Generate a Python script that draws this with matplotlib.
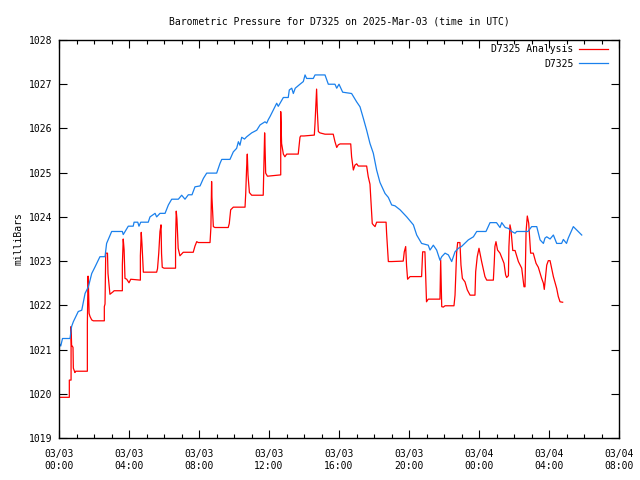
import numpy as np
import pandas as pd
import matplotlib
matplotlib.use("Agg")
import matplotlib.pyplot as plt
import matplotlib.dates as mdates

# -------------------------------------------------
# DATA (hours after 2025-03-03 00:00 UTC, pressure in mb)
# -------------------------------------------------
start = pd.Timestamp("2025-03-03 00:00")

obs_hours = [0.0, 0.1, 0.2, 0.63, 0.72, 0.82, 1.1, 1.3, 1.49, 1.68, 1.87, 2.06,
             2.34, 2.63, 2.72, 3.01, 3.62, 3.67, 3.96, 4.24, 4.29, 4.5, 4.57,
             4.67, 5.1, 5.2, 5.49, 5.58, 5.77, 6.06, 6.25, 6.44, 6.82, 7.01,
             7.2, 7.39, 7.6, 7.77, 8.06, 8.25, 8.44, 9.01, 9.2, 9.3, 9.77,
             9.96, 10.15, 10.25, 10.34, 10.44, 10.6, 10.72, 11.01, 11.3, 11.49,
             11.77, 11.87, 11.96, 12.06, 12.25, 12.44, 12.53, 12.63, 12.82,
             13.1, 13.16, 13.3, 13.39, 13.5, 13.77, 13.96, 14.06, 14.15, 14.53,
             14.63, 15.2, 15.39, 15.77, 15.87, 16.0, 16.21, 16.72, 17.01, 17.2,
             17.39, 17.58, 17.77, 17.96, 18.15, 18.34, 18.63, 18.82, 19.01,
             19.2, 19.49, 19.87, 20.25, 20.44, 20.72, 21.1, 21.2, 21.39, 21.58,
             21.77, 21.87, 22.06, 22.25, 22.44, 22.63, 22.82, 23.0, 23.39,
             23.68, 23.87, 24.4, 24.63, 25.0, 25.2, 25.3, 25.5, 25.68, 25.87,
             26.06, 26.15, 26.8, 27.01, 27.3, 27.49, 27.68, 27.77, 27.87, 28.06,
             28.25, 28.44, 28.72, 28.82, 29.0, 29.1, 29.39, 29.87]
obs_mb = [1021.15, 1021.08, 1021.25, 1021.25, 1021.52, 1021.63, 1021.86, 1021.89,
          1022.27, 1022.42, 1022.72, 1022.87, 1023.10, 1023.10, 1023.40, 1023.67,
          1023.67, 1023.60, 1023.79, 1023.79, 1023.88, 1023.88, 1023.79, 1023.88,
          1023.88, 1024.00, 1024.08, 1024.00, 1024.08, 1024.08, 1024.27, 1024.40,
          1024.40, 1024.49, 1024.40, 1024.50, 1024.50, 1024.68, 1024.70, 1024.87,
          1024.99, 1024.99, 1025.21, 1025.30, 1025.30, 1025.47, 1025.55, 1025.70,
          1025.62, 1025.80, 1025.76, 1025.81, 1025.90, 1025.96, 1026.08, 1026.15,
          1026.12, 1026.20, 1026.27, 1026.42, 1026.57, 1026.50, 1026.57, 1026.70,
          1026.70, 1026.87, 1026.91, 1026.79, 1026.91, 1027.00, 1027.06, 1027.21,
          1027.13, 1027.13, 1027.21, 1027.21, 1027.00, 1027.00, 1026.91, 1027.00,
          1026.82, 1026.79, 1026.60, 1026.49, 1026.23, 1025.96, 1025.66, 1025.44,
          1025.06, 1024.78, 1024.53, 1024.44, 1024.27, 1024.25, 1024.16, 1024.00,
          1023.82, 1023.59, 1023.40, 1023.36, 1023.25, 1023.36, 1023.25, 1023.02,
          1023.10, 1023.18, 1023.14, 1022.99, 1023.21, 1023.29, 1023.33, 1023.48,
          1023.55, 1023.67, 1023.67, 1023.87, 1023.87, 1023.76, 1023.87, 1023.76,
          1023.74, 1023.67, 1023.63, 1023.67, 1023.67, 1023.78, 1023.78, 1023.48,
          1023.40, 1023.52, 1023.55, 1023.50, 1023.59, 1023.40, 1023.40, 1023.49,
          1023.40, 1023.52, 1023.78, 1023.59]

ana_hours = [0.0, 0.59, 0.59, 0.69, 0.69, 0.72, 0.8, 0.82, 0.91, 0.95, 1.62,
             1.62, 1.66, 1.68, 1.72, 1.77, 1.87, 1.96, 2.59, 2.59, 2.63, 2.67,
             2.77, 2.8, 2.91, 3.1, 3.15, 3.62, 3.62, 3.67, 3.72, 3.77, 3.87,
             4.0, 4.1, 4.65, 4.65, 4.70, 4.74, 4.82, 5.58, 5.63, 5.7, 5.77,
             5.83, 5.86, 5.9, 6.0, 6.66, 6.66, 6.70, 6.74, 6.81, 6.91, 7.1,
             7.67, 7.77, 7.87, 7.96, 8.63, 8.68, 8.72, 8.74, 8.82, 8.91, 9.67,
             9.73, 9.81, 9.96, 10.63, 10.67, 10.72, 10.76, 10.8, 10.88, 11.01,
             11.67, 11.71, 11.75, 11.77, 11.81, 11.91, 12.67, 12.67, 12.72,
             12.82, 12.91, 13.01, 13.67, 13.77, 13.81, 14.0, 14.59, 14.63,
             14.69, 14.72, 14.76, 14.82, 14.91, 15.2, 15.67, 15.77, 15.87,
             15.96, 16.06, 16.67, 16.72, 16.82, 16.91, 17.01, 17.1, 17.58,
             17.67, 17.77, 17.9, 17.96, 18.06, 18.15, 18.69, 18.72, 18.82,
             19.01, 19.67, 19.73, 19.81, 19.86, 19.92, 20.06, 20.72, 20.78,
             20.91, 21.0, 21.1, 21.77, 21.81, 21.87, 21.96, 22.06, 22.57,
             22.63, 22.72, 22.78, 22.91, 22.97, 23.05, 23.2, 23.33, 23.49,
             23.77, 23.81, 23.9, 24.0, 24.15, 24.34, 24.44, 24.63, 24.82,
             24.87, 24.91, 24.97, 25.06, 25.2, 25.43, 25.52, 25.58, 25.68,
             25.71, 25.77, 25.83, 25.93, 26.06, 26.25, 26.44, 26.57, 26.63,
             26.69, 26.76, 26.84, 26.95, 27.1, 27.26, 27.39, 27.58, 27.68,
             27.73, 27.87, 27.96, 28.06, 28.25, 28.44, 28.53, 28.63, 28.78]
ana_mb = [1019.92, 1019.92, 1020.31, 1020.31, 1021.52, 1021.10, 1021.05, 1020.58,
          1020.48, 1020.51, 1020.51, 1021.58, 1022.66, 1022.48, 1021.82, 1021.75,
          1021.67, 1021.65, 1021.65, 1021.97, 1022.03, 1023.18, 1023.18, 1022.72,
          1022.25, 1022.31, 1022.33, 1022.33, 1022.91, 1023.50, 1023.26, 1022.61,
          1022.59, 1022.51, 1022.59, 1022.57, 1023.12, 1023.65, 1023.40, 1022.75,
          1022.75, 1022.83, 1023.18, 1023.67, 1023.82, 1023.17, 1022.86, 1022.84,
          1022.84, 1023.48, 1024.13, 1023.95, 1023.29, 1023.12, 1023.20, 1023.20,
          1023.34, 1023.44, 1023.42, 1023.42, 1023.76, 1024.80, 1024.44, 1023.78,
          1023.76, 1023.76, 1023.85, 1024.16, 1024.22, 1024.22, 1024.53, 1025.10,
          1025.42, 1024.95, 1024.55, 1024.49, 1024.49, 1025.20, 1025.90, 1025.66,
          1024.99, 1024.92, 1024.95, 1026.38, 1025.66, 1025.42, 1025.36, 1025.42,
          1025.42, 1025.80, 1025.83, 1025.83, 1025.85, 1026.12, 1026.64, 1026.89,
          1026.40, 1025.93, 1025.90, 1025.87, 1025.87, 1025.70, 1025.57, 1025.63,
          1025.65, 1025.65, 1025.36, 1025.06, 1025.17, 1025.20, 1025.15, 1025.15,
          1024.91, 1024.74, 1023.85, 1023.82, 1023.78, 1023.88, 1023.88, 1023.63,
          1022.99, 1022.99, 1023.00, 1023.21, 1023.33, 1022.90, 1022.59, 1022.65,
          1022.65, 1023.21, 1023.21, 1022.08, 1022.14, 1022.14, 1023.03, 1021.97,
          1021.96, 1021.99, 1021.99, 1022.23, 1023.18, 1023.42, 1023.42, 1022.91,
          1022.61, 1022.53, 1022.35, 1022.23, 1022.23, 1022.76, 1023.10, 1023.29,
          1022.99, 1022.65, 1022.57, 1022.57, 1022.57, 1022.95, 1023.33, 1023.44,
          1023.25, 1023.18, 1022.95, 1022.69, 1022.63, 1022.67, 1023.33, 1023.82,
          1023.70, 1023.24, 1023.24, 1022.99, 1022.84, 1022.42, 1022.42, 1023.67,
          1024.02, 1023.86, 1023.18, 1023.18, 1022.95, 1022.86, 1022.61, 1022.50,
          1022.36, 1022.91, 1023.01, 1023.01, 1022.65, 1022.38, 1022.20, 1022.08,
          1022.07]

obs_t = start + pd.to_timedelta(obs_hours, unit="h")
ana_t = start + pd.to_timedelta(ana_hours, unit="h")

# -------------------------------------------------
# PLOT
# -------------------------------------------------
plt.rcParams['font.family'] = ['DejaVu Sans Mono']
plt.rcParams['font.size'] = 7

fig = plt.figure(figsize=(6.4, 4.8), dpi=100)
ax = fig.add_axes([59/640, 42/480, 560/640, 398/480])

ax.plot(ana_t, ana_mb, color="#ff0000", lw=0.9, label="D7325 Analysis")
ax.plot(obs_t, obs_mb, color="#1a80ec", lw=0.9, label="D7325")

ax.set_xlim(start, start + pd.Timedelta(hours=32))
ax.set_ylim(1019, 1028)
ax.set_yticks(np.arange(1019, 1029, 1))
ax.xaxis.set_major_locator(mdates.HourLocator(byhour=[0, 4, 8, 12, 16, 20]))
ax.xaxis.set_minor_locator(mdates.HourLocator())
ax.xaxis.set_major_formatter(mdates.DateFormatter("%m/%d\n%H:%M"))

ax.tick_params(which="both", direction="in", top=True, right=True, colors="black")
ax.tick_params(which="major", length=6, width=0.8, pad=8)
ax.tick_params(which="minor", length=3, width=0.8)
ax.tick_params(axis="y", pad=5)
for s in ax.spines.values():
    s.set_linewidth(1.0)

ax.set_ylabel("milliBars", labelpad=4)
ax.set_title("Barometric Pressure for D7325 on 2025-Mar-03 (time in UTC)",
             fontsize=7, pad=11)

ax.legend(loc="upper right", bbox_to_anchor=(0.993, 1.006), frameon=False,
          markerfirst=False, handlelength=3.0, borderaxespad=0.3,
          labelspacing=0.45, handletextpad=0.6)

fig.savefig("out.png", dpi=100)
